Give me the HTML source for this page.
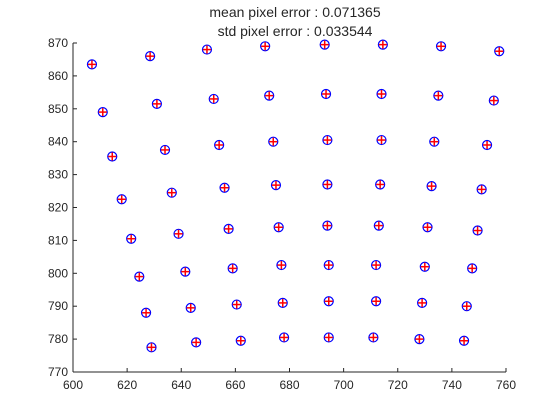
<!DOCTYPE html>
<html><head><meta charset="utf-8"><style>
html,body{margin:0;padding:0;background:#fff;width:560px;height:420px;overflow:hidden}
text{font-family:"Liberation Sans",Arial,sans-serif;fill:#262626}
</style></head><body>
<svg id="chart" width="560" height="420">
<text x="295" y="17" font-size="14" text-anchor="middle">mean pixel error : 0.071365</text>
<text x="295" y="36" font-size="14" text-anchor="middle">std pixel error : 0.033544</text>
<g id="axes"></g><g id="marks"></g>
</svg>
<script>
const xTicks=[600,620,640,660,680,700,720,740,760];
const yTicks=[770,780,790,800,810,820,830,840,850,860,870];
const xs=[607,628.5,649.5,671,693,714.5,736,757.5, 611,631,652,672.5,693.5,714,735,755.5,
614.5,634,654,674,694,714,733.5,753, 618,636.5,656,675,694,713.5,732.5,751,
621.5,639,657.5,676,694,713,731,749.5, 624.5,641.5,659,677,694.5,712,730,747.5,
627,643.5,660.5,677.5,694.5,712,729,745.5, 629,645.5,662,678,694.5,711,728,744.5];
const ys=[863.5,866,868,869,869.5,869.5,869,867.5, 849,851.5,853,854,854.5,854.5,854,852.5,
835.5,837.5,839,840,840.5,840.5,840,839, 822.5,824.5,826,826.8,827,827,826.5,825.5,
810.5,812,813.5,814,814.5,814.5,814,813, 799,800.5,801.5,802.5,802.5,802.5,802,801.5,
788,789.5,790.5,791,791.5,791.5,791,790, 777.5,779,779.5,780.5,780.5,780.5,780,779.5];
const X0=73,X1=506,Y0=372,Y1=43;
const sx=v=>X0+(v-600)/(760-600)*(X1-X0);
const sy=v=>Y0-(v-770)/(870-770)*(Y0-Y1);
const NS='http://www.w3.org/2000/svg';
const ax=document.getElementById('axes'),mk=document.getElementById('marks');
function el(t,a,p){const e=document.createElementNS(NS,t);for(const k in a)e.setAttribute(k,a[k]);p.appendChild(e);return e;}
let l=el('line',{x1:X0,y1:Y0,x2:X1,y2:Y0,stroke:'#262626','stroke-width':1},ax);


l=el('line',{x1:X0,y1:Y0,x2:X0,y2:Y1,stroke:'#262626','stroke-width':1},ax);


xTicks.forEach(v=>{const x=sx(v);
 el('line',{x1:x,y1:Y0,x2:x,y2:Y0-4,stroke:'#262626'},ax);
 const t=el('text',{x:x,y:Y0+17,'font-size':12,'text-anchor':'middle'},ax);t.textContent=v;
 
 });
yTicks.forEach(v=>{const y=sy(v);
 el('line',{x1:X0,y1:y,x2:X0+4,y2:y,stroke:'#262626'},ax);
 const t=el('text',{x:X0-5,y:y+4,'font-size':12,'text-anchor':'end'},ax);t.textContent=v;
 
 });
xs.forEach((v,i)=>{const x=sx(v),y=sy(ys[i]);
 const g=el('g',{},mk);
 
 
 el('circle',{cx:x,cy:y,r:4.5,fill:'none',stroke:'#0000ff','stroke-width':1.2},g);
 el('line',{x1:x-4,y1:y,x2:x+4,y2:y,stroke:'#ff0000','stroke-width':1.5},g);
 el('line',{x1:x,y1:y-4,x2:x,y2:y+4,stroke:'#ff0000','stroke-width':1.5},g);});
</script>
</body></html>
